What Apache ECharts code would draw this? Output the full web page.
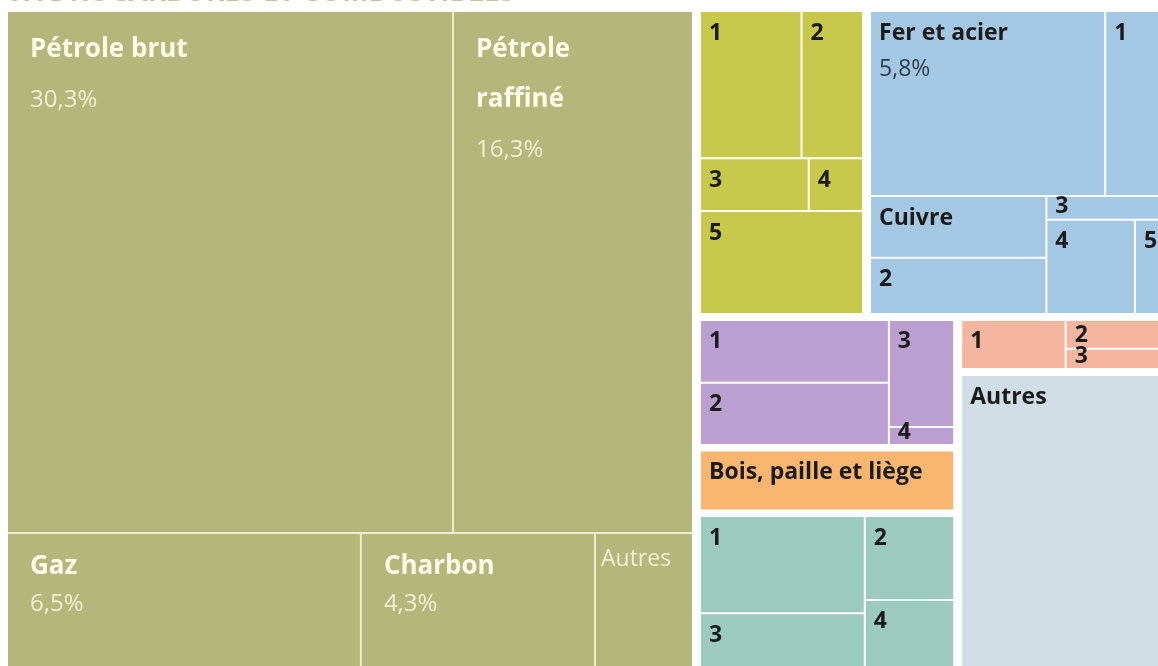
<!DOCTYPE html>
<html><head><meta charset="utf-8">
<script src="https://cdn.jsdelivr.net/npm/echarts@6/dist/echarts.min.js"></script>
<style>html,body{margin:0;padding:0;background:#fff}#chart{width:1158px;height:666px}</style>
</head><body><div id="chart"></div>
<script>
// ---------------- DATA (shares of total, %) ----------------
const chartTitle = 'HYDROCARBURES ET COMBUSTIBLES';

const hydroNames  = ['Pétrole brut', 'Pétrole\nraffiné', 'Gaz', 'Charbon', 'Autres'];
const hydroValues = [30.3, 16.3, 6.5, 4.3, 1.8];
const hydroPct    = ['30,3%', '16,3%', '6,5%', '4,3%', ''];

const mineraisNames  = ['1', '2', '3', '4', '5'];
const mineraisValues = [2.03, 1.23, 0.78, 0.39, 2.28];

const metauxNames  = ['Fer et acier', '1', 'Cuivre', '2', '3', '4', '5'];
const metauxValues = [5.8, 1.5, 1.45, 1.32, 0.38, 1.11, 0.39];
const metauxPct    = ['5,8%', '', '', '', '', '', ''];

const violetNames  = ['1', '2', '3', '4'];
const violetValues = [1.63, 1.61, 0.96, 0.16];

const boisNames  = ['Bois, paille et liège'];
const boisValues = [2.19];

const vertNames  = ['1', '2', '3', '4'];
const vertValues = [2.18, 1.02, 1.36, 0.90];

const saumonNames  = ['1', '2', '3'];
const saumonValues = [0.76, 0.43, 0.30];

const autresNames  = ['Autres'];
const autresValues = [8.25];

// ---------------- groups / styles ----------------
const groups = {
  hydro: {names: hydroNames, values: hydroValues, pct: hydroPct, color: '#b5b67a', light: true},
  min:   {names: mineraisNames, values: mineraisValues, color: '#c8c94c'},
  met:   {names: metauxNames, values: metauxValues, pct: metauxPct, color: '#a4c8e3'},
  vio:   {names: violetNames, values: violetValues, color: '#bb9fd0'},
  bois:  {names: boisNames, values: boisValues, color: '#f8b670'},
  ver:   {names: vertNames, values: vertValues, color: '#9ccabe'},
  sau:   {names: saumonNames, values: saumonValues, color: '#f5b6a0'},
  aut:   {names: autresNames, values: autresValues, color: '#d0dde5'}
};

const GRID = {left: 8, top: 12, width: 1157, height: 661};

const L = (g, i) => ({leaf: true, g, i});
const S = (dir, gap, children, bg) => ({dir, gap, children, bg});

// slice-and-dice structure of the treemap (sizes come from the values)
const tree = S('h', 9, [
  S('v', 2, [
    S('h', 2, [L('hydro', 0), L('hydro', 1)]),
    S('h', 2, [L('hydro', 2), L('hydro', 3), L('hydro', 4)])
  ], '#efeccd'),
  S('v', 8, [
    S('h', 9, [
      S('v', 2, [
        S('h', 2, [L('min', 0), L('min', 1)]),
        S('h', 2, [L('min', 2), L('min', 3)]),
        L('min', 4)
      ]),
      S('v', 2, [
        S('h', 2, [L('met', 0), L('met', 1)]),
        S('h', 2, [
          S('v', 2, [L('met', 2), L('met', 3)]),
          S('v', 2, [L('met', 4), S('h', 2, [L('met', 5), L('met', 6)])])
        ])
      ])
    ]),
    S('h', 9, [
      S('v', 7.5, [
        S('h', 2, [S('v', 2, [L('vio', 0), L('vio', 1)]), S('v', 2, [L('vio', 2), L('vio', 3)])]),
        L('bois', 0),
        S('h', 2, [S('v', 2, [L('ver', 0), L('ver', 2)]), S('v', 2, [L('ver', 1), L('ver', 3)])])
      ]),
      S('v', 8, [
        S('h', 2, [L('sau', 0), S('v', 2, [L('sau', 1), L('sau', 2)])]),
        L('aut', 0)
      ])
    ])
  ])
]);

function valueOf(n) {
  return n.leaf ? groups[n.g].values[n.i] : n.children.reduce((s, c) => s + valueOf(c), 0);
}

// layout in data units (0..100 on both axes)
const cells = [];
function layout(n, x, y, w, h) {
  if (n.bg) cells.push({bg: n.bg, x, y, w, h});
  if (n.leaf) { cells.push({leaf: n, x, y, w, h}); return; }
  const tot = valueOf(n);
  if (n.dir === 'h') {
    const g = n.gap * 100 / GRID.width, W = w + g;
    let cx = x - g / 2;
    n.children.forEach(c => { const cw = W * valueOf(c) / tot; layout(c, cx + g / 2, y, cw - g, h); cx += cw; });
  } else {
    const g = n.gap * 100 / GRID.height, H = h + g;
    let cy = y - g / 2;
    n.children.forEach(c => { const ch = H * valueOf(c) / tot; layout(c, x, cy + g / 2, w, ch - g); cy += ch; });
  }
}
layout(tree, 0, 0, 100, 100);

const FONT = '"Open Sans", "Noto Sans", sans-serif';
function txt(x, y, text, size, weight, color) {
  return {type: 'text', x, y, style: {text, fontSize: size, fontWeight: weight, fontFamily: FONT, fill: color, verticalAlign: 'middle', align: 'left'}};
}

function renderItem(params, api) {
  const c = cells[api.value(4)];
  const p0 = api.coord([api.value(0), api.value(1)]);
  const p1 = api.coord([api.value(2), api.value(3)]);
  const rx = p0[0], ry = p0[1], rw = p1[0] - p0[0], rh = p1[1] - p0[1];
  const kids = [];
  if (c.bg) {
    kids.push({type: 'rect', shape: {x: rx, y: ry, width: rw, height: rh}, style: {fill: c.bg}});
    return {type: 'group', children: kids};
  }
  const g = groups[c.leaf.g], i = c.leaf.i;
  kids.push({type: 'rect', shape: {x: rx, y: ry, width: rw, height: rh}, style: {fill: g.color}});
  const name = g.names[i], pct = g.pct ? g.pct[i] : '';
  if (g.light) {
    const nameCol = '#fffcec', pctCol = 'rgba(255,252,232,0.82)';
    if (name === 'Autres') {
      kids.push(txt(rx + 5, ry + 26, name, 23, 400, pctCol));
    } else {
      const big = rh > 300;
      const step = big ? 50 : 37;
      let cy = ry + (big ? 38 : 33);
      name.split('\n').forEach(t => { kids.push(txt(rx + 22, cy, t, 26, 700, nameCol)); cy += step; });
      if (pct) kids.push(txt(rx + 22, cy, pct, 24, 400, pctCol));
    }
  } else {
    const off = Math.min(21, Math.max(rh - 12, 4));
    kids.push(txt(rx + 8, ry + off, name, 23, 700, '#1b1b1b'));
    if (pct) kids.push(txt(rx + 8, ry + off + 36, pct, 23, 400, '#2e3d4c'));
  }
  return {type: 'group', children: kids};
}

const seriesData = cells.map((c, k) => [c.x, c.y, c.x + c.w, c.y + c.h, k]);

const chart = echarts.init(document.getElementById('chart'), null, {renderer: 'canvas'});
chart.setOption({
  backgroundColor: '#ffffff',
  animation: false,
  graphic: [{
    type: 'text', left: 10, top: -21,
    style: {text: chartTitle, fontSize: 28, fontWeight: 700, fontFamily: FONT, fill: '#c4c596'}
  }],
  grid: {left: GRID.left, top: GRID.top, width: GRID.width, height: GRID.height,
         containLabel: false, outerBoundsMode: 'none'},
  xAxis: {type: 'value', min: 0, max: 100, show: false},
  yAxis: {type: 'value', min: 0, max: 100, inverse: true, show: false},
  series: [{
    type: 'custom',
    coordinateSystem: 'cartesian2d',
    renderItem,
    clip: false,
    encode: {x: [0, 2], y: [1, 3]},
    data: seriesData
  }]
});
</script></body></html>
